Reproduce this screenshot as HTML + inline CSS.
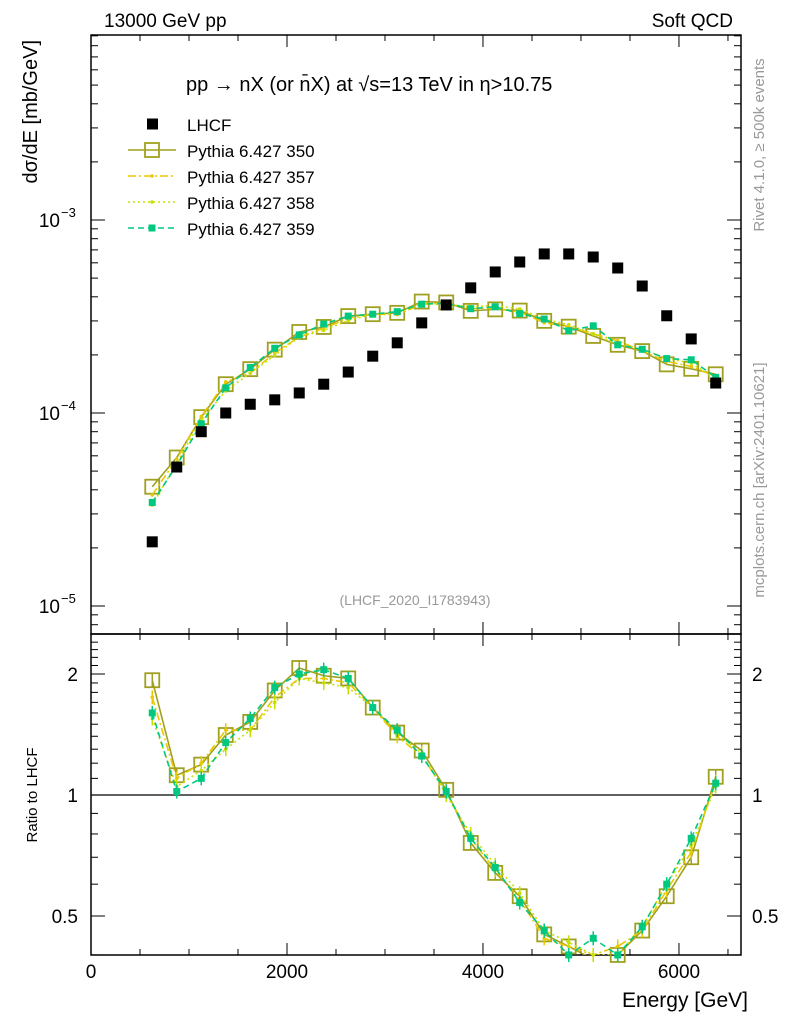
<!DOCTYPE html>
<html><head><meta charset="utf-8"><style>
body{margin:0;background:#fff}
svg text{font-family:"Liberation Sans",sans-serif}
</style></head><body>
<svg id="c" width="786" height="1024" xmlns="http://www.w3.org/2000/svg"></svg>
<script>
const energies=[625,875,1125,1375,1625,1875,2125,2375,2625,2875,3125,3375,3625,3875,4125,4375,4625,4875,5125,5375,5625,5875,6125,6375];
const lhcf=[2.15e-5,5.25e-5,8.0e-5,1.0e-4,1.11e-4,1.17e-4,1.27e-4,1.41e-4,1.63e-4,1.97e-4,2.31e-4,2.93e-4,3.63e-4,4.45e-4,5.38e-4,6.06e-4,6.67e-4,6.67e-4,6.43e-4,5.64e-4,4.55e-4,3.19e-4,2.42e-4,1.43e-4];
const ratio350=[1.93,1.12,1.19,1.41,1.52,1.82,2.07,1.98,1.95,1.65,1.43,1.29,1.03,0.76,0.64,0.56,0.45,0.42,0.39,0.40,0.46,0.56,0.70,1.11];
const ratio357=[1.75,1.1,1.2,1.45,1.45,1.75,1.95,1.95,1.9,1.65,1.4,1.25,1.02,0.78,0.65,0.55,0.44,0.42,0.40,0.42,0.46,0.58,0.72,1.08];
const ratio358=[1.55,1.05,1.15,1.3,1.45,1.7,1.95,1.9,1.85,1.65,1.42,1.27,1.0,0.8,0.67,0.57,0.46,0.43,0.40,0.40,0.47,0.6,0.75,1.05];
const ratio359=[1.6,1.02,1.1,1.35,1.55,1.85,2.0,2.05,1.95,1.65,1.45,1.25,1.02,0.78,0.66,0.54,0.46,0.40,0.44,0.40,0.47,0.60,0.78,1.07];
const xTicks=[0,2000,4000,6000];
const ratioTicks=[0.5,1,2];

const svg=document.getElementById('c');const NS='http://www.w3.org/2000/svg';
function el(t,a,txt){const e=document.createElementNS(NS,t);for(const k in a)e.setAttribute(k,a[k]);if(txt!==undefined)e.textContent=txt;svg.appendChild(e);return e;}
const L=91,R=741,T=35,M=634,B=955;
const xmin=0,xmax=6633;
const X=v=>L+(v-xmin)/(xmax-xmin)*(R-L);
const Y=v=>220-(Math.log10(v)+3)*193;
const YR=v=>795-Math.log2(v)*121;
const clip=el('clipPath',{id:'cm'});
const cr=document.createElementNS(NS,'rect');cr.setAttribute('x',L);cr.setAttribute('y',T);cr.setAttribute('width',R-L);cr.setAttribute('height',M-T);clip.appendChild(cr);
const clip2=el('clipPath',{id:'cr'});
const cr2=document.createElementNS(NS,'rect');cr2.setAttribute('x',L);cr2.setAttribute('y',M);cr2.setAttribute('width',R-L);cr2.setAttribute('height',B-M);clip2.appendChild(cr2);

let f=el('rect',{x:L,y:T,width:R-L,height:M-T,fill:'none',stroke:'#000','stroke-width':1.5});

f=el('rect',{x:L,y:M,width:R-L,height:B-M,fill:'none',stroke:'#000','stroke-width':1.5});


for(let v=0;v<=6600;v+=500){const px=X(v);const big=v%2000===0;const len=big?12:6;
 el('line',{x1:px,y1:M,x2:px,y2:M-len,stroke:'#000'});el('line',{x1:px,y1:T,x2:px,y2:T+len,stroke:'#000'});
 el('line',{x1:px,y1:B,x2:px,y2:B-len,stroke:'#000'});el('line',{x1:px,y1:M,x2:px,y2:M+len,stroke:'#000'});}
xTicks.forEach(v=>{const t=el('text',{x:X(v),y:978,'font-size':19,'text-anchor':'middle'},String(v));});
for(let d=-6;d<=-2;d++){for(let m=1;m<10;m++){const v=m*Math.pow(10,d);const py=Y(v);if(py<T||py>M)continue;const len=m===1?14:7;
 el('line',{x1:L,y1:py,x2:L+len,y2:py,stroke:'#000'});el('line',{x1:R,y1:py,x2:R-len,y2:py,stroke:'#000'});}}
[-3,-4,-5].forEach(d=>{const t=el('text',{x:60,y:Y(Math.pow(10,d))+7,'font-size':19,'text-anchor':'end'},'10');
 el('text',{x:61,y:Y(Math.pow(10,d))-3,'font-size':13},'−'+(-d));});
for(let v=0.4;v<=2.5;v+=0.1){const py=YR(v);if(py<M||py>B)continue;const maj=[0.5,1,2].some(a=>Math.abs(a-v)<1e-6);const len=maj?14:7;
 el('line',{x1:L,y1:py,x2:L+len,y2:py,stroke:'#000'});el('line',{x1:R,y1:py,x2:R-len,y2:py,stroke:'#000'});}
ratioTicks.forEach(v=>{let t=el('text',{x:78,y:YR(v)+7,'font-size':19,'text-anchor':'end'},String(v));
 t=el('text',{x:752,y:YR(v)+7,'font-size':19},String(v));});
el('line',{x1:L,y1:YR(1),x2:R,y2:YR(1),stroke:'#000','stroke-width':1.2});

let t;
t=el('text',{x:104,y:27,'font-size':19},'13000 GeV pp');
t=el('text',{x:733,y:27,'font-size':19,'text-anchor':'end'},'Soft QCD');
t=el('text',{x:186,y:91,'font-size':20},'pp → nX (or n̄X) at √s=13 TeV in η>10.75');
t=el('text',{x:415,y:605,'font-size':14,fill:'#999','text-anchor':'middle'},'(LHCF_2020_I1783943)');
t=el('text',{x:0,y:0,'font-size':20,transform:'translate(37,40) rotate(-90)','text-anchor':'end'},'dσ/dE [mb/GeV]');
t=el('text',{x:0,y:0,'font-size':15,transform:'translate(37,795) rotate(-90)','text-anchor':'middle'},'Ratio to LHCF');
t=el('text',{x:748,y:1007,'font-size':21,'text-anchor':'end'},'Energy [GeV]');
t=el('text',{x:0,y:0,'font-size':15,fill:'#999',transform:'translate(764,145) rotate(-90)','text-anchor':'middle'},'Rivet 4.1.0, ≥ 500k events');
t=el('text',{x:0,y:0,'font-size':15,fill:'#999',transform:'translate(764,480) rotate(-90)','text-anchor':'middle'},'mcplots.cern.ch [arXiv:2401.10621]');

const series=[
 {name:'350',r:ratio350,color:'#a0a020',dash:'',mk:'box'},
 {name:'357',r:ratio357,color:'#e8c800',dash:'8,3,2,3',mk:'dot'},
 {name:'358',r:ratio358,color:'#c8e000',dash:'2,3',mk:'dot'},
 {name:'359',r:ratio359,color:'#00c880',dash:'6,4',mk:'sq'}];
function marker(x,y,s,name){let m;
 if(s.mk==='box')m=el('rect',{x:x-7,y:y-7,width:14,height:14,fill:'none',stroke:s.color,'stroke-width':1.8});
 else if(s.mk==='sq')m=el('rect',{x:x-3.5,y:y-3.5,width:7,height:7,fill:s.color});
 else m=el('circle',{cx:x,cy:y,r:1.8,fill:s.color});
 }
series.forEach(s=>{
 const ptsM=energies.map((e,i)=>X(e)+','+Y(s.r[i]*lhcf[i])).join(' ');
 const ptsR=energies.map((e,i)=>X(e)+','+YR(s.r[i])).join(' ');
 let p=el('polyline',{points:ptsM,fill:'none',stroke:s.color,'stroke-width':1.6,'stroke-dasharray':s.dash,'clip-path':'url(#cm)'});
 
 p=el('polyline',{points:ptsR,fill:'none',stroke:s.color,'stroke-width':1.6,'stroke-dasharray':s.dash,'clip-path':'url(#cr)'});
 
 energies.forEach((e,i)=>{marker(X(e),Y(s.r[i]*lhcf[i]),s,'point-pythia-'+s.name);
  const yr=YR(s.r[i]);if(yr>M&&yr<B){marker(X(e),yr,s,'ratio-point-pythia-'+s.name);
   const eb=el('line',{x1:X(e),y1:yr-7,x2:X(e),y2:yr+7,stroke:s.color,'stroke-width':1.5});}});
});
energies.forEach((e,i)=>{const m=el('rect',{x:X(e)-5.5,y:Y(lhcf[i])-5.5,width:11,height:11,fill:'#000'});
 });

const ly=[124,150,176,202,228];
let lm=el('rect',{x:147,y:ly[0]-5.5,width:11,height:11,fill:'#000'});
t=el('text',{x:187,y:ly[0]+7,'font-size':17},'LHCF');
series.forEach((s,k)=>{const y=ly[k+1];
 const l=el('line',{x1:128,y1:y,x2:176,y2:y,stroke:s.color,'stroke-width':1.6,'stroke-dasharray':s.dash});
 marker(152,y,s,'legend-marker-'+s.name);
 const tt=el('text',{x:187,y:y+7,'font-size':17},'Pythia 6.427 '+s.name);});
</script>
</body></html>
